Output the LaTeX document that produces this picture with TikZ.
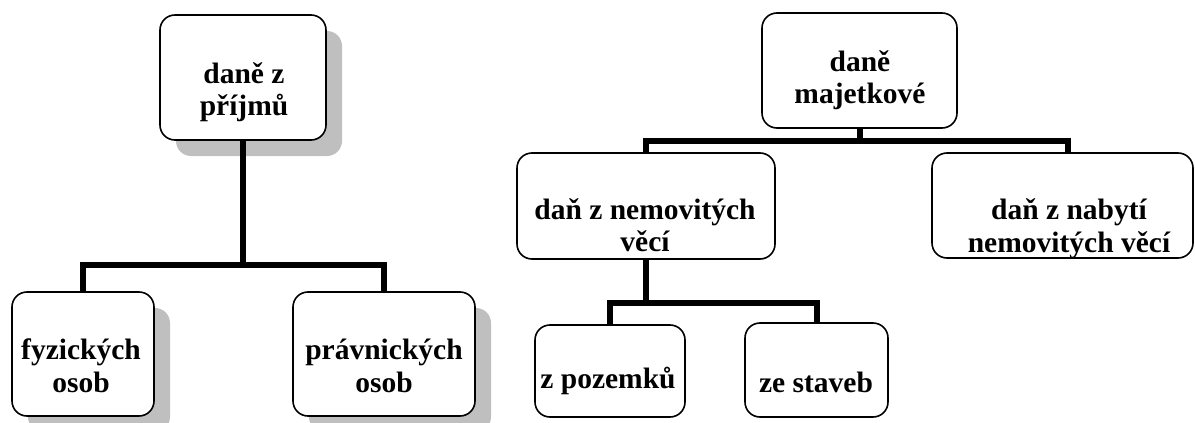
\documentclass[tikz,border=0pt]{standalone}
\usepackage{fontspec}
\setmainfont{Liberation Serif}
\usetikzlibrary{shadows}
\begin{document}
\begin{tikzpicture}[x=1pt,y=-1pt,
  box/.style={draw=black, line width=1.6pt, rounded corners=15pt, fill=white, inner sep=0pt},
  sbox/.style={box, drop shadow={shadow xshift=16pt, shadow yshift=-16pt, fill=black!25, opacity=1, draw=none}},
  txt/.style={font=\bfseries\fontsize{29.5}{32.5}\selectfont, align=center, inner sep=0pt},
  conn/.style={line width=6pt}]
\useasboundingbox (0,0) rectangle (1195,423);
% left group
\node[sbox, minimum width=166pt, minimum height=125pt] (t1) at (243,77.5) {};
\node[sbox, minimum width=142pt, minimum height=124pt] (f) at (83,354) {};
\node[sbox, minimum width=182pt, minimum height=124pt] (p) at (384,354) {};
\node[txt] (t1t) at (244,92) {daně z\\příjmů};
\node[txt] (ft) at (81,366) {fyzických\\osob};
\node[txt] (pt) at (384,366) {právnických\\osob};
\draw[conn] (t1.south) -- (t1.south |- 0,265) -| (f.north);
\draw[conn] (t1.south |- 0,265) -| (p.north);
% right group
\node[box, minimum width=195pt, minimum height=115pt] (m) at (859.5,70.5) {};
\node[box, minimum width=258pt, minimum height=106pt] (n) at (646,206) {};
\node[box, minimum width=261pt, minimum height=105pt] (b) at (1062.5,205.5) {};
\node[box, minimum width=150pt, minimum height=92pt] (z) at (610,371) {};
\node[box, minimum width=143pt, minimum height=94pt] (s) at (816.5,370) {};
\node[txt] (mt) at (860,80) {daně\\majetkové};
\node[txt] (nt) at (645,225) {daň z nemovitých\\věcí};
\node[txt] (bt) at (1069,229) {daň z nabytí\\nemovitých věcí};
\node[txt] (zt) at (608,381) {z pozemků};
\node[txt] (st) at (816,382) {ze staveb};
\draw[conn] (m.south) -- (m.south |- 0,141) -| (n.north);
\draw[conn] (m.south |- 0,141) -| ([xshift=5.5pt]b.north);
\draw[conn] (n.south) -- (n.south |- 0,303) -| (z.north);
\draw[conn] (n.south |- 0,303) -| (s.north);
\end{tikzpicture}
\end{document}
